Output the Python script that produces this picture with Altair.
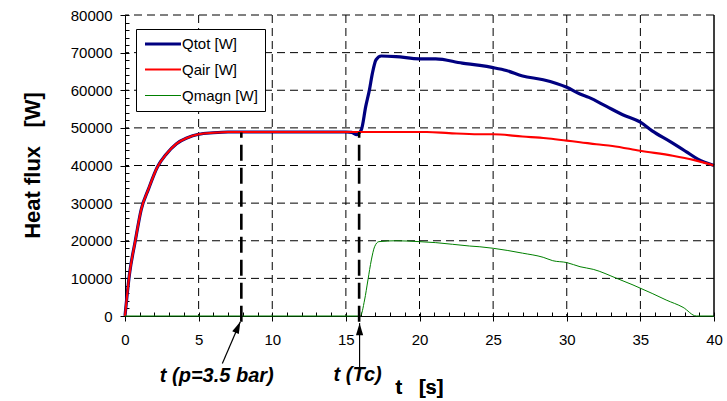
import altair as alt
import pandas as pd

# ---------------- data ----------------
t_tot = [0, 0.3, 0.7, 1.1, 1.6, 2.2, 2.8, 3.5, 4.2, 5, 6, 7, 8, 10, 12, 14, 15, 15.4, 15.7,
         16.05, 16.35, 16.6, 16.8, 17.05, 17.4, 18.4, 20, 21.1, 22.9, 24.1, 25, 25.9, 27,
         28.4, 30, 30.9, 31.5, 32.7, 33.8, 35, 35.8, 37, 38.1, 38.9, 40]
q_tot = [0, 11000, 20000, 28300, 33800, 39600, 43000, 45800, 47300, 48300, 48700, 48900,
         48900, 48900, 48900, 48900, 48900, 48800, 48200, 49500, 55700, 60100, 64500,
         68100, 69100, 68950, 68350, 68350, 67200, 66600, 66000, 65250, 63800, 62800,
         60800, 59000, 58100, 55700, 53500, 51500, 49200, 46400, 43700, 41700, 40000]

t_air = [0, 0.3, 0.7, 1.1, 1.6, 2.2, 2.8, 3.5, 4.2, 5, 6, 7, 8, 10, 12, 14, 16, 18, 20.5,
         22, 24, 25, 27, 28.6, 30, 30.9, 32, 33.1, 35, 37.2, 38.6, 40]
q_air = [0, 11000, 20000, 28300, 33800, 39600, 43000, 45800, 47300, 48300, 48700, 48900,
         48900, 48900, 48900, 48900, 48900, 48900, 48900, 48600, 48300, 48300, 47700,
         47250, 46600, 46200, 45650, 45200, 43900, 42600, 41500, 40000]

t_mag = [0, 15.98, 16.27, 16.5, 16.73, 16.95, 17.24, 18.4, 20, 21.1, 23.4, 24.1, 25, 27,
         28.4, 29.05, 30, 30.9, 31.8, 33.4, 34.5, 35.8, 36.75, 37.9, 38.8, 40]
q_mag = [0, 0, 4250, 9600, 14900, 18400, 19760, 20000, 19760, 19500, 18600, 18400, 18000,
         16700, 15600, 14700, 14200, 13100, 12400, 10000, 8250, 6000, 4250, 2300, 0, 0]

series_names = ["Qtot [W]", "Qair [W]", "Qmagn [W]"]
series_colors = ["#000080", "#ff0000", "#008000"]
series_widths = [3.2, 1.0, 1.0]

x_ticks = [0, 5, 10, 15, 20, 25, 30, 35, 40]
y_ticks = [0, 10000, 20000, 30000, 40000, 50000, 60000, 70000, 80000]
x_minor = list(range(0, 41))
y_minor = list(range(0, 80001, 2000))

# event markers (t, top value) and annotations
mark_t = [7.9, 15.9]
mark_top = [48800, 48900]
mark_bottom = [-1500, -1500]

arrow_t0 = [6.61, 15.93]
arrow_v0 = [-12600, -14700]
arrow_t1 = [7.83, 15.93]
arrow_v1 = [-1500, -1900]
arrow_angle = [23.4, 0]

ann_text = ["t (p=3.5 bar)", "t (Tc)"]
ann_t = [6.23, 15.8]
ann_v = [-15950, -15700]

FONT = "Liberation Sans"

rows = []
for name, ts, qs in zip(series_names, [t_tot, t_air, t_mag], [q_tot, q_air, q_mag]):
    for t, q in zip(ts, qs):
        rows.append({"series": name, "t": t, "q": q})
df = pd.DataFrame(rows)

markers = pd.DataFrame({"t": mark_t, "top": mark_top, "bottom": mark_bottom})
arrows = pd.DataFrame({"t0": arrow_t0, "v0": arrow_v0, "t1": arrow_t1, "v1": arrow_v1,
                       "angle": arrow_angle})
anns = pd.DataFrame({"label": ann_text, "t": ann_t, "v": ann_v})
gx = pd.DataFrame({"t": x_ticks[1:-1]})
gy = pd.DataFrame({"v": y_ticks[1:]})

xs = alt.Scale(domain=[0, 40], nice=False, zero=False)
ys = alt.Scale(domain=[0, 80000], nice=False, zero=False)

color = alt.Color(
    "series:N",
    scale=alt.Scale(domain=series_names, range=series_colors),
    legend=alt.Legend(
        title=None, orient="none", legendX=11, legendY=14,
        symbolType="M-1,0H5", symbolSize=144, labelFont=FONT, labelFontSize=15,
        labelColor="black", strokeColor="black", fillColor="white", padding=7,
        rowPadding=10, labelOffset=23, labelLimit=200,
    ),
)
width_enc = alt.StrokeWidth(
    "series:N",
    scale=alt.Scale(domain=series_names, range=series_widths),
    legend=alt.Legend(title=None),
)

main_x_axis = alt.Axis(
    values=x_ticks, format="d", labelFont=FONT, labelFontSize=15, labelColor="black",
    tickColor="black", tickSize=5, domainColor="black", labelPadding=11,
    grid=False, title=None, labelFlush=False, orient="bottom",
)
main_y_axis = alt.Axis(
    values=y_ticks, format="d", labelFont=FONT, labelFontSize=15, labelColor="black",
    tickColor="black", tickSize=5, domainColor="black", labelPadding=8,
    grid=False,
    title="Heat flux\u00a0\u00a0\u00a0[W]", titleFont=FONT, titleFontSize=22,
    titleFontWeight="bold", titleColor="black", titleAngle=270,
    titleX=-93, titleY=150, titleAlign="center", titleBaseline="middle",
    labelFlush=False, orient="left",
)

grid_x = alt.Chart(gx).mark_rule(strokeDash=[8, 5], color="black", strokeWidth=1).encode(
    x=alt.X("t:Q", scale=xs, axis=None),
)
grid_y = alt.Chart(gy).mark_rule(strokeDash=[8, 5], color="black", strokeWidth=1).encode(
    y=alt.Y("v:Q", scale=ys, axis=None),
)

base = alt.Chart(df).mark_line(interpolate="monotone").encode(
    x=alt.X("t:Q", scale=xs, axis=main_x_axis),
    y=alt.Y("q:Q", scale=ys, axis=main_y_axis),
    color=color,
    strokeWidth=width_enc,
    order=alt.Order("t:Q"),
)
lines = alt.layer(*[base.transform_filter(alt.datum.series == n) for n in series_names])

# minor (inside) ticks
minor_x_axis = alt.Axis(values=x_minor, labels=False, domain=False, grid=False,
                        tickColor="black", tickSize=4, offset=-4, title=None,
                        orient="bottom")
minor_y_axis = alt.Axis(values=y_minor, labels=False, domain=False, grid=False,
                        tickColor="black", tickSize=4, offset=-4, title=None,
                        orient="left")

minor = alt.Chart(markers).mark_rule(strokeDash=[16, 7], strokeWidth=2.6, color="black").encode(
    x=alt.X("t:Q", scale=xs, axis=minor_x_axis),
    y=alt.Y("bottom:Q", scale=ys, axis=minor_y_axis),
    y2="top:Q",
)

right_border = alt.Chart(markers).mark_rule(color="black", strokeWidth=1).encode(
    x=alt.XDatum(40, scale=xs, axis=None),
    y=alt.YDatum(0, scale=ys, axis=None),
    y2=alt.Y2Datum(80000),
)

arrow_lines = alt.Chart(arrows).mark_rule(color="black", strokeWidth=1.2).encode(
    x=alt.X("t0:Q", scale=xs, axis=None),
    y=alt.Y("v0:Q", scale=ys, axis=None),
    x2="t1:Q",
    y2="v1:Q",
)
arrow_heads = alt.Chart(arrows).mark_point(
    shape="M0,0L0.36,1.2L-0.36,1.2Z", filled=True, color="black", opacity=1, size=400,
).encode(
    x=alt.X("t1:Q", scale=xs, axis=None),
    y=alt.Y("v1:Q", scale=ys, axis=None),
    angle=alt.Angle("angle:Q", scale=None),
)

ann_marks = alt.Chart(anns).mark_text(
    font=FONT, fontSize=20, fontWeight="bold", fontStyle="italic", color="black",
    align="center", baseline="middle",
).encode(
    x=alt.X("t:Q", scale=xs, axis=None),
    y=alt.Y("v:Q", scale=ys, axis=None),
    text="label:N",
)

x_title = alt.Chart(anns).mark_text(
    font=FONT, fontSize=20, fontWeight="bold", color="black",
    align="center", baseline="middle",
).encode(
    x=alt.XDatum(20.0, scale=xs, axis=None),
    y=alt.YDatum(-19150, scale=ys, axis=None),
    text=alt.value("t\u00a0\u00a0\u00a0[s]"),
)

chart = alt.layer(
    grid_x, grid_y, lines, minor, right_border, arrow_lines, arrow_heads, ann_marks, x_title
).resolve_axis(x="independent", y="independent").properties(
    width=589, height=301,
    autosize=alt.AutoSizeParams(type="none"),
    padding={"left": 125, "top": 15, "right": 13, "bottom": 85},
    background="white",
).configure_view(stroke=None)

chart.save("out.html", embed_options={"renderer": "svg", "actions": False})
